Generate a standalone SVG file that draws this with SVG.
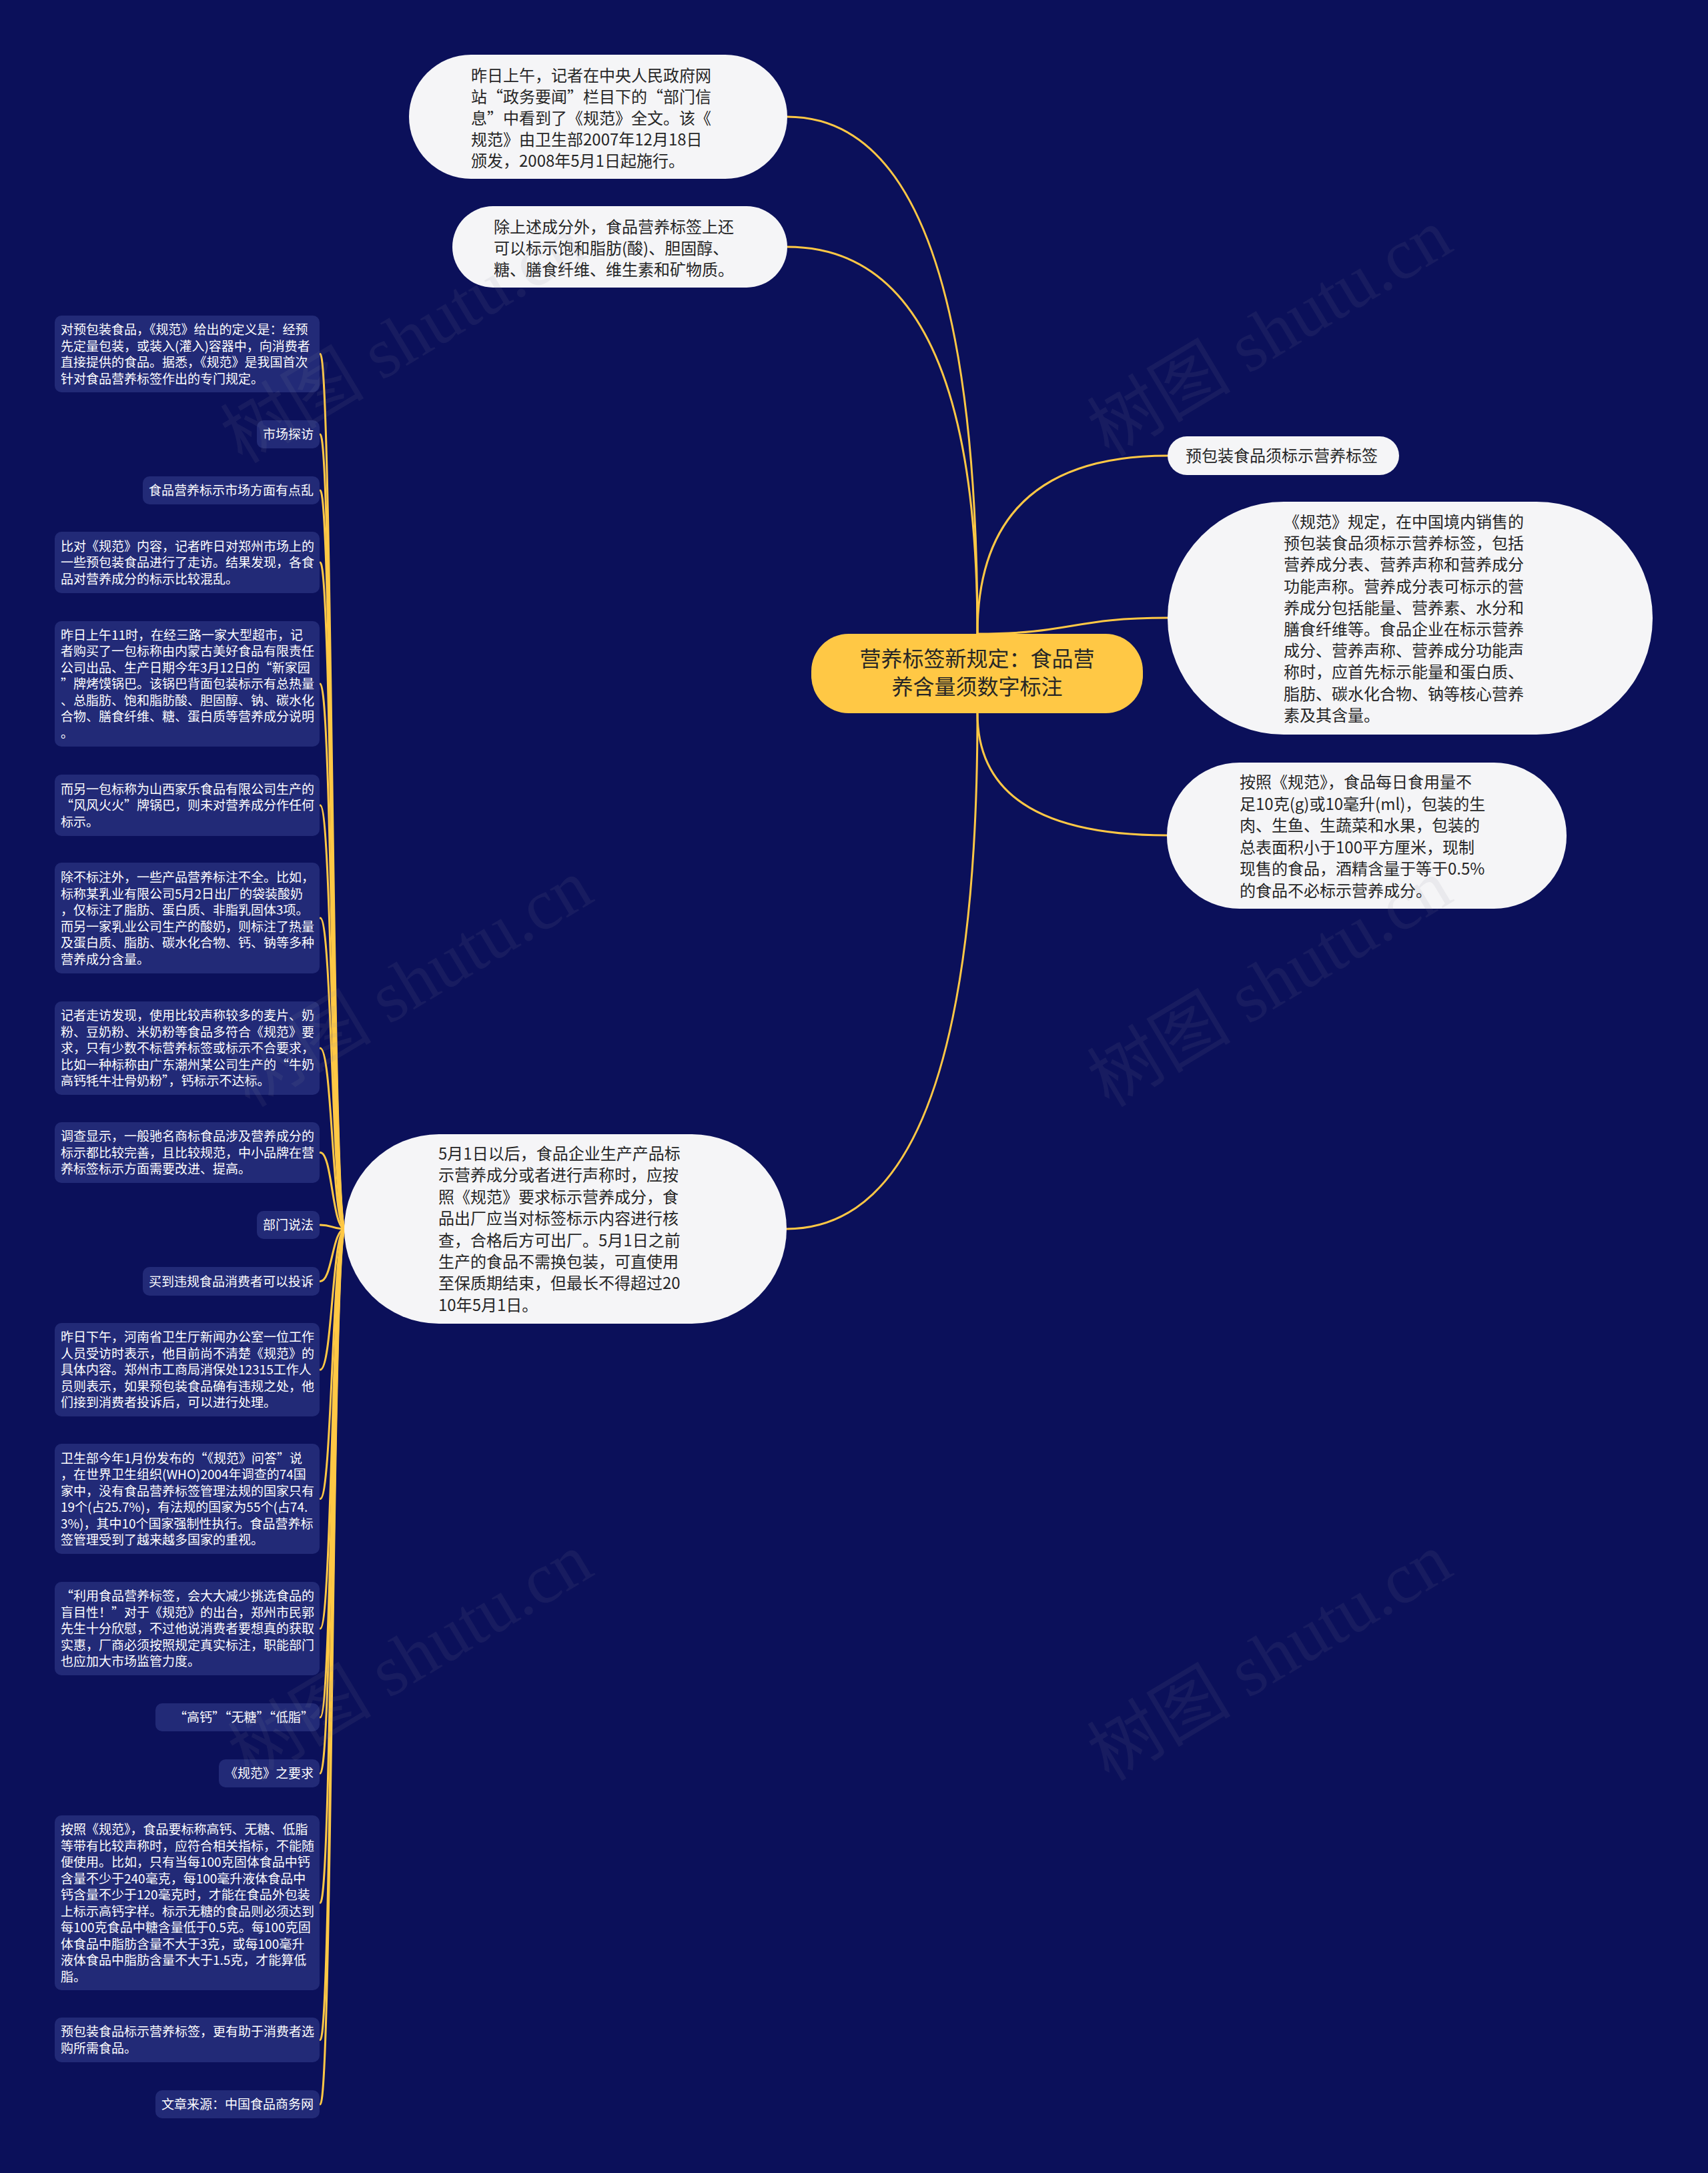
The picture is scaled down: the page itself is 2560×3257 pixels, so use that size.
<svg xmlns="http://www.w3.org/2000/svg" width="2560" height="3257" viewBox="0 0 2560 3257">
<style>
.ln{fill:none;stroke:#FFC845;stroke-width:3;stroke-linecap:round}
.lrect{fill:#222A77}
.lt{font-family:"Noto Sans CJK SC","Noto Sans",sans-serif;font-size:19px;fill:#FFFFFF}
.wrect{fill:#F5F5F7}
.wt{font-family:"Noto Sans CJK SC","Noto Sans",sans-serif;font-size:24px;fill:#262626}
.ct{font-family:"Noto Sans CJK SC","Noto Sans",sans-serif;font-size:32px;fill:#262626}
.wm{font-family:"Liberation Serif","Noto Sans CJK SC",serif;font-size:108px;fill:#8A8A9A;opacity:0.1}
</style>
<rect x="0" y="0" width="2560" height="3257" fill="#0B105A"/>

<g id="connectors">
<path class="ln" d="M1465,950 Q1465,175 1180,175"/>
<path class="ln" d="M1465,950 Q1465,370 1180,370"/>
<path class="ln" d="M1465,950 Q1465,683 1750,683"/>
<path class="ln" d="M1465,950 C1607,950 1607,926 1750,926"/>
<path class="ln" d="M1465,1069 Q1465,1252 1749,1252"/>
<path class="ln" d="M1465,1069 Q1465,1842 1179,1842"/>
<path class="ln" d="M517,1842 C498,1842 498,530.5 480,530.5"/>
<path class="ln" d="M517,1842 C498,1842 498,651 480,651"/>
<path class="ln" d="M517,1842 C498,1842 498,735 480,735"/>
<path class="ln" d="M517,1842 C498,1842 498,843 480,843"/>
<path class="ln" d="M517,1842 C498,1842 498,1025 480,1025"/>
<path class="ln" d="M517,1842 C498,1842 498,1207 480,1207"/>
<path class="ln" d="M517,1842 C498,1842 498,1376 480,1376"/>
<path class="ln" d="M517,1842 C498,1842 498,1571 480,1571"/>
<path class="ln" d="M517,1842 C498,1842 498,1727.5 480,1727.5"/>
<path class="ln" d="M517,1842 C498,1842 498,1836 480,1836"/>
<path class="ln" d="M517,1842 C498,1842 498,1920.5 480,1920.5"/>
<path class="ln" d="M517,1842 C498,1842 498,2053 480,2053"/>
<path class="ln" d="M517,1842 C498,1842 498,2246.5 480,2246.5"/>
<path class="ln" d="M517,1842 C498,1842 498,2441 480,2441"/>
<path class="ln" d="M517,1842 C498,1842 498,2574 480,2574"/>
<path class="ln" d="M517,1842 C498,1842 498,2658 480,2658"/>
<path class="ln" d="M517,1842 C498,1842 498,2852 480,2852"/>
<path class="ln" d="M517,1842 C498,1842 498,3057.5 480,3057.5"/>
<path class="ln" d="M517,1842 C498,1842 498,3154 480,3154"/>
</g>

<g id="center">
<rect x="1216" y="950" width="497" height="119" rx="56" fill="#FFC845"/>
<text class="ct" text-anchor="middle" x="1464.5" y="999">营养标签新规定：食品营<tspan x="1464.5" dy="42">养含量须数字标注</tspan></text>
</g>

<g id="top1">
<rect class="wrect" x="613" y="82" width="567" height="186" rx="93"/>
<text class="wt" x="706" y="122">昨日上午，记者在中央人民政府网<tspan x="706" dy="32">站“政务要闻”栏目下的“部门信</tspan><tspan x="706" dy="32">息”中看到了《规范》全文。该《</tspan><tspan x="706" dy="32">规范》由卫生部2007年12月18日</tspan><tspan x="706" dy="32">颁发，2008年5月1日起施行。</tspan></text>
</g>

<g id="top2">
<rect class="wrect" x="678" y="309" width="502" height="122" rx="61"/>
<text class="wt" x="740" y="349">除上述成分外，食品营养标签上还<tspan x="740" dy="32">可以标示饱和脂肪(酸)、胆固醇、</tspan><tspan x="740" dy="32">糖、膳食纤维、维生素和矿物质。</tspan></text>
</g>

<g id="right1">
<rect class="wrect" x="1750" y="654" width="347" height="58" rx="29"/>
<text class="wt" x="1777" y="692">预包装食品须标示营养标签</text>
</g>

<g id="right2">
<rect class="wrect" x="1750" y="752" width="727" height="349" rx="174"/>
<text class="wt" x="1924" y="791">《规范》规定，在中国境内销售的<tspan x="1924" dy="32.2">预包装食品须标示营养标签，包括</tspan><tspan x="1924" dy="32.2">营养成分表、营养声称和营养成分</tspan><tspan x="1924" dy="32.2">功能声称。营养成分表可标示的营</tspan><tspan x="1924" dy="32.2">养成分包括能量、营养素、水分和</tspan><tspan x="1924" dy="32.2">膳食纤维等。食品企业在标示营养</tspan><tspan x="1924" dy="32.2">成分、营养声称、营养成分功能声</tspan><tspan x="1924" dy="32.2">称时，应首先标示能量和蛋白质、</tspan><tspan x="1924" dy="32.2">脂肪、碳水化合物、钠等核心营养</tspan><tspan x="1924" dy="32.2">素及其含量。</tspan></text>
</g>

<g id="right3">
<rect class="wrect" x="1749" y="1143" width="599" height="219" rx="109"/>
<text class="wt" x="1858" y="1181">按照《规范》，食品每日食用量不<tspan x="1858" dy="32.6">足10克(g)或10毫升(ml)，包装的生</tspan><tspan x="1858" dy="32.6">肉、生鱼、生蔬菜和水果，包装的</tspan><tspan x="1858" dy="32.6">总表面积小于100平方厘米，现制</tspan><tspan x="1858" dy="32.6">现售的食品，酒精含量于等于0.5%</tspan><tspan x="1858" dy="32.6">的食品不必标示营养成分。</tspan></text>
</g>

<g id="bottom">
<rect class="wrect" x="516" y="1700" width="663" height="284" rx="142"/>
<text class="wt" x="657" y="1738">5月1日以后，食品企业生产产品标<tspan x="657" dy="32.4">示营养成分或者进行声称时，应按</tspan><tspan x="657" dy="32.4">照《规范》要求标示营养成分，食</tspan><tspan x="657" dy="32.4">品出厂应当对标签标示内容进行核</tspan><tspan x="657" dy="32.4">查，合格后方可出厂。5月1日之前</tspan><tspan x="657" dy="32.4">生产的食品不需换包装，可直使用</tspan><tspan x="657" dy="32.4">至保质期结束，但最长不得超过20</tspan><tspan x="657" dy="32.4">10年5月1日。</tspan></text>
</g>

<g id="l1"><rect class="lrect" x="82" y="473" width="397" height="115" rx="10"/>
<text class="lt" x="91" y="501">对预包装食品，《规范》给出的定义是：经预<tspan x="91" dy="24.5">先定量包装，或装入(灌入)容器中，向消费者</tspan><tspan x="91" dy="24.5">直接提供的食品。据悉，《规范》是我国首次</tspan><tspan x="91" dy="24.5">针对食品营养标签作出的专门规定。</tspan></text></g>

<g id="l2"><rect class="lrect" x="385" y="630" width="94" height="42" rx="10"/>
<text class="lt" text-anchor="end" x="470" y="658">市场探访</text></g>

<g id="l3"><rect class="lrect" x="214" y="714" width="265" height="42" rx="10"/>
<text class="lt" text-anchor="end" x="470" y="742">食品营养标示市场方面有点乱</text></g>

<g id="l4"><rect class="lrect" x="82" y="797" width="397" height="92" rx="10"/>
<text class="lt" x="91" y="825.5">比对《规范》内容，记者昨日对郑州市场上的<tspan x="91" dy="24.5">一些预包装食品进行了走访。结果发现，各食</tspan><tspan x="91" dy="24.5">品对营养成分的标示比较混乱。</tspan></text></g>

<g id="l5"><rect class="lrect" x="82" y="931" width="397" height="188" rx="10"/>
<text class="lt" x="91" y="958.5">昨日上午11时，在经三路一家大型超市，记<tspan x="91" dy="24.5">者购买了一包标称由内蒙古美好食品有限责任</tspan><tspan x="91" dy="24.5">公司出品、生产日期今年3月12日的“新家园</tspan><tspan x="91" dy="24.5">”牌烤馍锅巴。该锅巴背面包装标示有总热量</tspan><tspan x="91" dy="24.5">、总脂肪、饱和脂肪酸、胆固醇、钠、碳水化</tspan><tspan x="91" dy="24.5">合物、膳食纤维、糖、蛋白质等营养成分说明</tspan><tspan x="91" dy="24.5">。</tspan></text></g>

<g id="l6"><rect class="lrect" x="82" y="1161" width="397" height="92" rx="10"/>
<text class="lt" x="91" y="1189.5">而另一包标称为山西家乐食品有限公司生产的<tspan x="91" dy="24.5">“风风火火”牌锅巴，则未对营养成分作任何</tspan><tspan x="91" dy="24.5">标示。</tspan></text></g>

<g id="l7"><rect class="lrect" x="82" y="1293" width="397" height="166" rx="10"/>
<text class="lt" x="91" y="1322">除不标注外，一些产品营养标注不全。比如，<tspan x="91" dy="24.5">标称某乳业有限公司5月2日出厂的袋装酸奶</tspan><tspan x="91" dy="24.5">，仅标注了脂肪、蛋白质、非脂乳固体3项。</tspan><tspan x="91" dy="24.5">而另一家乳业公司生产的酸奶，则标注了热量</tspan><tspan x="91" dy="24.5">及蛋白质、脂肪、碳水化合物、钙、钠等多种</tspan><tspan x="91" dy="24.5">营养成分含量。</tspan></text></g>

<g id="l8"><rect class="lrect" x="82" y="1501" width="397" height="140" rx="10"/>
<text class="lt" x="91" y="1529">记者走访发现，使用比较声称较多的麦片、奶<tspan x="91" dy="24.5">粉、豆奶粉、米奶粉等食品多符合《规范》要</tspan><tspan x="91" dy="24.5">求，只有少数不标营养标签或标示不合要求，</tspan><tspan x="91" dy="24.5">比如一种标称由广东潮州某公司生产的“牛奶</tspan><tspan x="91" dy="24.5">高钙牦牛壮骨奶粉”，钙标示不达标。</tspan></text></g>

<g id="l9"><rect class="lrect" x="82" y="1682" width="397" height="91" rx="10"/>
<text class="lt" x="91" y="1710">调查显示，一般驰名商标食品涉及营养成分的<tspan x="91" dy="24.5">标示都比较完善，且比较规范，中小品牌在营</tspan><tspan x="91" dy="24.5">养标签标示方面需要改进、提高。</tspan></text></g>

<g id="l10"><rect class="lrect" x="385" y="1815" width="94" height="42" rx="10"/>
<text class="lt" text-anchor="end" x="470" y="1843">部门说法</text></g>

<g id="l11"><rect class="lrect" x="214" y="1899" width="265" height="43" rx="10"/>
<text class="lt" text-anchor="end" x="470" y="1927.5">买到违规食品消费者可以投诉</text></g>

<g id="l12"><rect class="lrect" x="82" y="1983" width="397" height="140" rx="10"/>
<text class="lt" x="91" y="2011">昨日下午，河南省卫生厅新闻办公室一位工作<tspan x="91" dy="24.5">人员受访时表示，他目前尚不清楚《规范》的</tspan><tspan x="91" dy="24.5">具体内容。郑州市工商局消保处12315工作人</tspan><tspan x="91" dy="24.5">员则表示，如果预包装食品确有违规之处，他</tspan><tspan x="91" dy="24.5">们接到消费者投诉后，可以进行处理。</tspan></text></g>

<g id="l13"><rect class="lrect" x="82" y="2164" width="397" height="165" rx="10"/>
<text class="lt" x="91" y="2192.5">卫生部今年1月份发布的“《规范》问答”说<tspan x="91" dy="24.5">，在世界卫生组织(WHO)2004年调查的74国</tspan><tspan x="91" dy="24.5">家中，没有食品营养标签管理法规的国家只有</tspan><tspan x="91" dy="24.5">19个(占25.7%)，有法规的国家为55个(占74.</tspan><tspan x="91" dy="24.5">3%)，其中10个国家强制性执行。食品营养标</tspan><tspan x="91" dy="24.5">签管理受到了越来越多国家的重视。</tspan></text></g>

<g id="l14"><rect class="lrect" x="82" y="2371" width="397" height="140" rx="10"/>
<text class="lt" x="91" y="2399">“利用食品营养标签，会大大减少挑选食品的<tspan x="91" dy="24.5">盲目性！”对于《规范》的出台，郑州市民郭</tspan><tspan x="91" dy="24.5">先生十分欣慰，不过他说消费者要想真的获取</tspan><tspan x="91" dy="24.5">实惠，厂商必须按照规定真实标注，职能部门</tspan><tspan x="91" dy="24.5">也应加大市场监管力度。</tspan></text></g>

<g id="l15"><rect class="lrect" x="233" y="2553" width="246" height="42" rx="10"/>
<text class="lt" text-anchor="end" x="470" y="2581">“高钙”“无糖”“低脂”</text></g>

<g id="l16"><rect class="lrect" x="328" y="2637" width="151" height="42" rx="10"/>
<text class="lt" text-anchor="end" x="470" y="2665">《规范》之要求</text></g>

<g id="l17"><rect class="lrect" x="82" y="2721" width="397" height="262" rx="10"/>
<text class="lt" x="91" y="2749">按照《规范》，食品要标称高钙、无糖、低脂<tspan x="91" dy="24.5">等带有比较声称时，应符合相关指标，不能随</tspan><tspan x="91" dy="24.5">便使用。比如，只有当每100克固体食品中钙</tspan><tspan x="91" dy="24.5">含量不少于240毫克，每100毫升液体食品中</tspan><tspan x="91" dy="24.5">钙含量不少于120毫克时，才能在食品外包装</tspan><tspan x="91" dy="24.5">上标示高钙字样。标示无糖的食品则必须达到</tspan><tspan x="91" dy="24.5">每100克食品中糖含量低于0.5克。每100克固</tspan><tspan x="91" dy="24.5">体食品中脂肪含量不大于3克，或每100毫升</tspan><tspan x="91" dy="24.5">液体食品中脂肪含量不大于1.5克，才能算低</tspan><tspan x="91" dy="24.5">脂。</tspan></text></g>

<g id="l18"><rect class="lrect" x="82" y="3024" width="397" height="67" rx="10"/>
<text class="lt" x="91" y="3052">预包装食品标示营养标签，更有助于消费者选<tspan x="91" dy="24.5">购所需食品。</tspan></text></g>

<g id="l19"><rect class="lrect" x="233" y="3133" width="246" height="42" rx="10"/>
<text class="lt" text-anchor="end" x="470" y="3161">文章来源：中国食品商务网</text></g>

<g id="watermarks">
<text class="wm" text-anchor="middle" transform="translate(623,540) rotate(-31)">树图 shutu.cn</text>
<text class="wm" text-anchor="middle" transform="translate(1922,530) rotate(-31)">树图 shutu.cn</text>
<text class="wm" text-anchor="middle" transform="translate(634,1505) rotate(-31)">树图 shutu.cn</text>
<text class="wm" text-anchor="middle" transform="translate(1922,1505) rotate(-31)">树图 shutu.cn</text>
<text class="wm" text-anchor="middle" transform="translate(634,2515) rotate(-31)">树图 shutu.cn</text>
<text class="wm" text-anchor="middle" transform="translate(1922,2515) rotate(-31)">树图 shutu.cn</text>
</g>
</svg>
